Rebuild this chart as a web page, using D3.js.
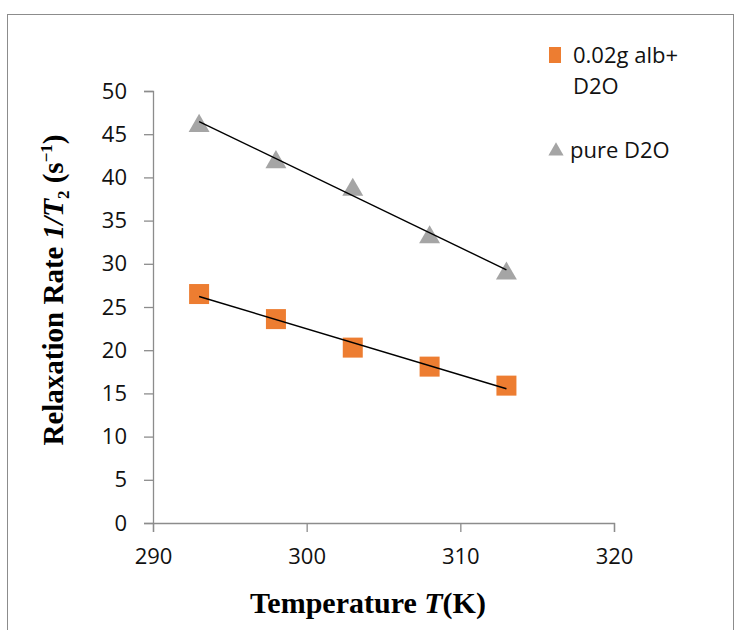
<!DOCTYPE html>
<html>
<head>
<meta charset="utf-8">
<script src="https://cdn.jsdelivr.net/npm/d3@7"></script>
<style>
  body { margin: 0; background: #fff; }
  svg { display: block; }
</style>
</head>
<body>
<div id="chart"></div>
<script>
// data
var temps = [293, 298, 303, 308, 313];
var albRates = [26.5, 23.6, 20.3, 18.1, 15.9];   // 0.02g alb+ D2O
var pureRates = [46.2, 42.0, 38.8, 33.3, 29.1];  // pure D2O
var xTicks = [290, 300, 310, 320];
var yTicks = [0, 5, 10, 15, 20, 25, 30, 35, 40, 45, 50];

var width = 736, height = 630;
var margin = {top: 91, right: 122, bottom: 107, left: 153};

var svg = d3.select("#chart")
  .append("svg")
    .attr("width", width)
    .attr("height", height);

// outer frame
svg.append("rect")
  .attr("x", 7.5).attr("y", 14.5)
  .attr("width", 726).attr("height", 640)
  .attr("fill", "none")
  .attr("stroke", "#8c8c8c")
  .attr("stroke-width", 1);

var x = d3.scaleLinear().domain([290, 320]).range([margin.left, width - margin.right]);
var y = d3.scaleLinear().domain([0, 50]).range([height - margin.bottom, margin.top]);

var sans = "'Open Sans', 'Liberation Sans', sans-serif";
var serif = "'Liberation Serif', 'Times New Roman', serif";

// axes
var xAxis = svg.append("g")
  .attr("transform", "translate(0," + y(0) + ")")
  .call(d3.axisBottom(x).tickValues(xTicks).tickSize(9).tickPadding(16).tickFormat(d3.format("d")));
var yAxis = svg.append("g")
  .attr("transform", "translate(" + x(290) + ",0)")
  .call(d3.axisLeft(y).tickValues(yTicks).tickSize(9).tickPadding(17).tickFormat(d3.format("d")));

[xAxis, yAxis].forEach(function(a) {
  a.attr("font-size", null).attr("font-family", null);
  a.select(".domain").attr("stroke", "#8c8c8c").attr("stroke-width", 1.3);
  a.selectAll(".tick line").attr("stroke", "#8c8c8c").attr("stroke-width", 1.3);
  a.selectAll(".tick text")
    .attr("fill", "#111")
    .style("font-family", sans)
    .style("font-size", "22px");
});

// linear trendlines (least squares on the series)
function fit(xs, ys) {
  var n = xs.length, mx = d3.mean(xs), my = d3.mean(ys);
  var sxy = 0, sxx = 0;
  for (var i = 0; i < n; i++) { sxy += (xs[i]-mx)*(ys[i]-my); sxx += (xs[i]-mx)*(xs[i]-mx); }
  var b = sxy / sxx, a = my - b*mx;
  return function(t) { return a + b*t; };
}

// orange squares
svg.selectAll("rect.sq")
  .data(temps)
  .enter()
  .append("rect")
    .attr("class", "sq")
    .attr("x", function(d) { return x(d) - 10; })
    .attr("y", function(d, i) { return y(albRates[i]) - 10; })
    .attr("width", 20).attr("height", 20)
    .attr("fill", "#ed7d31");

// gray triangles
var tri = d3.symbol().type(d3.symbolTriangle).size(190);
svg.selectAll("path.tri")
  .data(temps)
  .enter()
  .append("path")
    .attr("class", "tri")
    .attr("d", tri)
    .attr("transform", function(d, i) { return "translate(" + x(d) + "," + (y(pureRates[i]) + 2) + ")"; })
    .attr("fill", "#a5a5a5");

// trendlines on top of markers
[albRates, pureRates].forEach(function(s) {
  var f = fit(temps, s);
  var x0 = d3.min(temps), x1 = d3.max(temps);
  svg.append("line")
    .attr("x1", x(x0)).attr("y1", y(f(x0)))
    .attr("x2", x(x1)).attr("y2", y(f(x1)))
    .attr("stroke", "#000")
    .attr("stroke-width", 1.4);
});

// legend
svg.append("rect")
  .attr("x", 549).attr("y", 47)
  .attr("width", 12).attr("height", 16)
  .attr("fill", "#ed7d31");
svg.append("text")
  .attr("x", 573).attr("y", 63)
  .text("0.02g alb+")
  .style("font-family", sans).style("font-size", "22px").attr("fill", "#111");
svg.append("text")
  .attr("x", 573).attr("y", 94)
  .text("D2O")
  .style("font-family", sans).style("font-size", "22px").attr("fill", "#111");
svg.append("path")
  .attr("d", d3.symbol().type(d3.symbolTriangle).size(100))
  .attr("transform", "translate(556,151)")
  .attr("fill", "#a5a5a5");
svg.append("text")
  .attr("x", 570).attr("y", 158)
  .text("pure D2O")
  .style("font-family", sans).style("font-size", "22px").attr("fill", "#111");

// x axis title
var xt = svg.append("text")
  .attr("x", 368).attr("y", 613)
  .attr("text-anchor", "middle")
  .style("font-family", serif)
  .style("font-size", "30px")
  .style("font-weight", "bold");
xt.append("tspan").text("Temperature ");
xt.append("tspan").style("font-style", "italic").text("T");
xt.append("tspan").text("(K)");

// y axis title
var yt = svg.append("text")
  .attr("transform", "translate(63,290) rotate(-90)")
  .attr("text-anchor", "middle")
  .style("font-family", serif)
  .style("font-size", "29px")
  .style("font-weight", "bold");
yt.append("tspan").text("Relaxation Rate ");
yt.append("tspan").style("font-style", "italic").text("1/T");
yt.append("tspan").style("font-size", "17px").attr("dy", "6").text("2");
yt.append("tspan").attr("dy", "-6").text(" (s");
yt.append("tspan").style("font-size", "17px").attr("dy", "-11").text("\u22121");
yt.append("tspan").attr("dy", "11").text(")");
</script>
</body>
</html>
